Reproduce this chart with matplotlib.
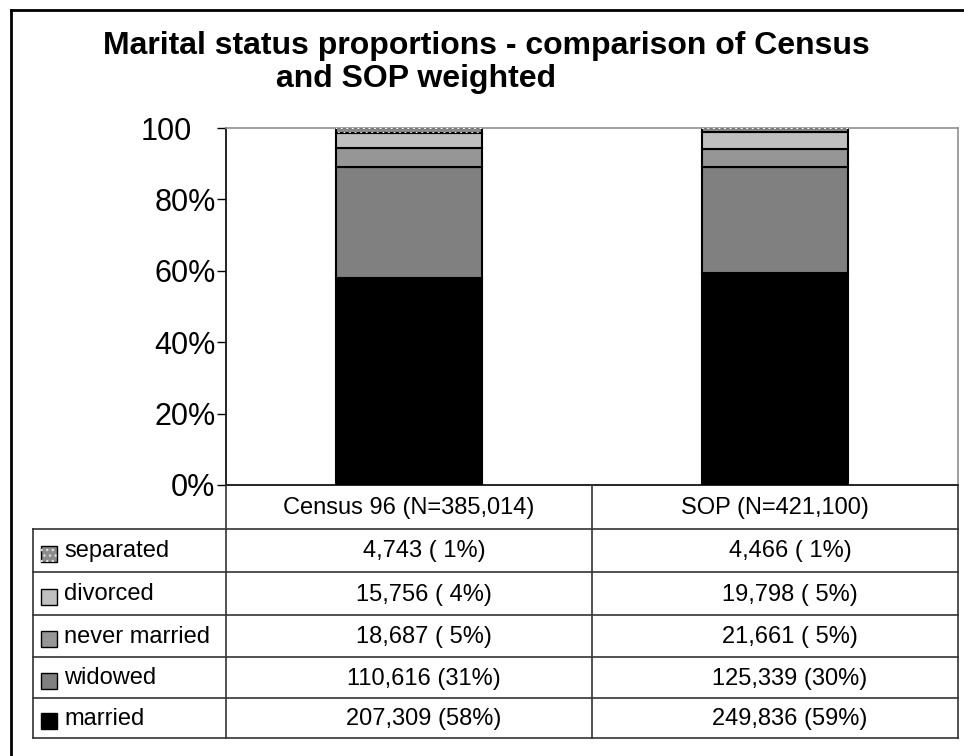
import matplotlib.pyplot as plt
from matplotlib.lines import Line2D
from matplotlib.patches import Rectangle
from matplotlib.transforms import ScaledTranslation

# data
groups = ['Census 96 (N=385,014)', 'SOP (N=421,100)']
statuses = ['married', 'widowed', 'never married', 'divorced', 'separated']
census_counts = [207309, 110616, 18687, 15756, 4743]
sop_counts = [249836, 125339, 21661, 19798, 4466]
yticks = [0, 20, 40, 60, 80, 100]
ytick_labels = ['0%', '20%', '40%', '60%', '80%', '100']

colors = ['#000000', '#808080', '#969696', '#c0c0c0', '#8c8c8c']

plt.rcParams['font.family'] = ['Liberation Sans', 'DejaVu Sans']

W, H = 964, 756
fig = plt.figure(figsize=(W / 100, H / 100), dpi=100)


def fx(px):
    return px / W


def fy(py):
    return 1 - py / H


# plot area in pixels
left, right, top, bottom = 226, 958, 128, 485
ax = fig.add_axes([fx(left), fy(bottom), fx(right - left), (bottom - top) / H])

series = [census_counts, sop_counts]
for gi, counts in enumerate(series):
    total = sum(counts)
    base = 0
    for si, n in enumerate(counts):
        h = n / total * 100
        ax.bar(gi, h, width=0.4, bottom=base, color=colors[si],
               edgecolor='black', linewidth=1.5, zorder=2)
        if statuses[si] == 'separated':
            ax.bar(gi, h, width=0.4, bottom=base, color='none',
                   edgecolor='white', hatch='...', linewidth=0, zorder=3)
        base += h

ax.set_xlim(-0.5, 1.5)
ax.set_ylim(0, 100)
ax.set_xticks([])
ax.set_yticks(yticks)
ax.set_yticklabels(ytick_labels, fontsize=22)
ax.tick_params(axis='y', direction='out', length=6.5, width=1, pad=1)
# the "100" label sits further left in the original
lab = ax.get_yticklabels()[-1]
lab.set_transform(lab.get_transform() + ScaledTranslation(-0.24, 0, fig.dpi_scale_trans))

for s in ['top', 'right']:
    ax.spines[s].set_color('#909090')
    ax.spines[s].set_linewidth(1.2)
for s in ['left', 'bottom']:
    ax.spines[s].set_color('black')
    ax.spines[s].set_linewidth(1.2)

# title
fig.text(fx(486), fy(54), 'Marital status proportions - comparison of Census',
         ha='center', va='baseline', fontsize=23, fontweight='bold')
fig.text(fx(276), fy(87), 'and SOP weighted',
         ha='left', va='baseline', fontsize=23, fontweight='bold')

# data table under the chart
lc = '#333333'
lw = 1.2
col_x = [left, 592, right]
row_y = [529, 572, 615, 657, 698, 738]
tab_left = 33


def hline(x0, x1, y):
    fig.add_artist(Line2D([fx(x0), fx(x1)], [fy(y), fy(y)], color=lc, lw=lw))


def vline(x, y0, y1):
    fig.add_artist(Line2D([fx(x), fx(x)], [fy(y0), fy(y1)], color=lc, lw=lw))


vline(left, bottom, row_y[-1])
vline(col_x[1], bottom, row_y[-1])
vline(right, bottom, row_y[-1])
vline(tab_left, row_y[0], row_y[-1])
for y in row_y:
    hline(tab_left, right, y)

for gi, g in enumerate(groups):
    cx = (col_x[gi] + col_x[gi + 1]) / 2
    fig.text(fx(cx), fy((bottom + row_y[0]) / 2 + 1), g, ha='center', va='center', fontsize=17)

# legend rows: top row is the top of the stack
for ri, si in enumerate(reversed(range(len(statuses)))):
    yc = (row_y[ri] + row_y[ri + 1]) / 2 + 1
    sw_y = fy(yc + 10)
    fig.add_artist(Rectangle((fx(41), sw_y), 16 / W, 16 / H, transform=fig.transFigure,
                             facecolor=colors[si], edgecolor='black', linewidth=1))
    if statuses[si] == 'separated':
        fig.add_artist(Rectangle((fx(41), sw_y), 16 / W, 16 / H, transform=fig.transFigure,
                                 facecolor='none', edgecolor='#dddddd', hatch='...', linewidth=0))
    fig.text(fx(64), fy(yc), statuses[si], ha='left', va='center', fontsize=17)
    for gi, counts in enumerate(series):
        total = sum(counts)
        n = counts[si]
        pct = round(n / total * 100)
        cx = (col_x[gi] + col_x[gi + 1]) / 2 + 15
        fig.text(fx(cx), fy(yc), f"{n:,} ({pct:>2}%)", ha='center', va='center', fontsize=17)

# outer frame (runs off the right and bottom edge like the original)
fig.add_artist(Line2D([fx(11), fx(11)], [0, fy(10)], color='black', lw=2))
fig.add_artist(Line2D([fx(11), 1], [fy(10), fy(10)], color='black', lw=2))

fig.savefig('out.png', dpi=100)
